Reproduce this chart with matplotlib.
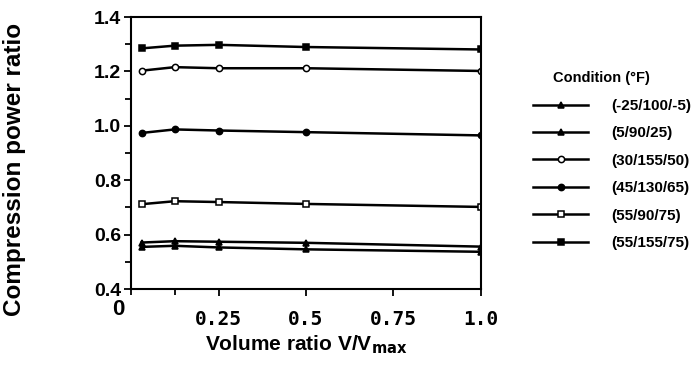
import matplotlib.pyplot as plt
from matplotlib.ticker import FixedLocator

# volume ratio V/Vmax where each condition was evaluated
volume_ratio = [0.03, 0.125, 0.25, 0.5, 1.0]

conditions = ["(-25/100/-5)", "(5/90/25)", "(30/155/50)",
              "(45/130/65)", "(55/90/75)", "(55/155/75)"]

# compression power ratio
cpr_m25_100_m5 = [0.555, 0.559, 0.553, 0.546, 0.537]
cpr_5_90_25 = [0.571, 0.576, 0.574, 0.570, 0.556]
cpr_30_155_50 = [1.203, 1.216, 1.212, 1.212, 1.202]
cpr_45_130_65 = [0.974, 0.987, 0.983, 0.977, 0.965]
cpr_55_90_75 = [0.712, 0.723, 0.720, 0.713, 0.702]
cpr_55_155_75 = [1.285, 1.295, 1.298, 1.290, 1.281]

series = [cpr_m25_100_m5, cpr_5_90_25, cpr_30_155_50,
          cpr_45_130_65, cpr_55_90_75, cpr_55_155_75]
markers = ["^", "^", "o", "o", "s", "s"]
filled = [True, True, False, True, False, True]

y_ticks = [0.4, 0.6, 0.8, 1.0, 1.2, 1.4]
y_minor = [0.5, 0.7, 0.9, 1.1, 1.3]
x_ticks = [0.25, 0.5, 0.75, 1.0]
x_ticklabels = ["0.25", "0.5", "0.75", "1.0"]

plt.rcParams["font.family"] = ["Liberation Sans", "DejaVu Sans"]
plt.rcParams["font.weight"] = "bold"

fig = plt.figure(figsize=(6.97, 3.72), dpi=100)
ax = fig.add_axes([0.188, 0.223, 0.502, 0.731])

handles = []
for vals, m, f, name in zip(series, markers, filled, conditions):
    h, = ax.plot(volume_ratio, vals, color="black", lw=1.8, marker=m,
                 markersize=4.5, markeredgewidth=1.1,
                 markerfacecolor="black" if f else "white",
                 markeredgecolor="black", label=name)
    handles.append(h)

ax.set_xlim(0, 1.0)
ax.set_ylim(0.4, 1.4)
ax.yaxis.set_major_locator(FixedLocator(y_ticks))
ax.yaxis.set_minor_locator(FixedLocator(y_minor))
ax.xaxis.set_major_locator(FixedLocator(x_ticks))
ax.xaxis.set_minor_locator(FixedLocator([0, 0.125]))
ax.set_yticklabels([f"{v:.1f}" for v in y_ticks], fontsize=14,
                   fontweight="bold")
ax.set_xticklabels(x_ticklabels, family="DejaVu Sans Mono", fontsize=14,
                   fontweight="bold")
ax.tick_params(which="both", direction="out", width=1.3, color="black")
ax.tick_params(which="major", length=5)
ax.tick_params(axis="x", which="major", pad=10)
ax.tick_params(axis="y", which="major", pad=2)
ax.tick_params(which="minor", length=4)
for sp in ax.spines.values():
    sp.set_linewidth(1.5)

ax.text(-0.035, -0.035, "0", transform=ax.transAxes, ha="center", va="top",
        fontsize=16, fontweight="bold")

ax.set_ylabel("Compression power ratio", fontsize=17.5, fontweight="bold")
ax.yaxis.set_label_coords(-0.3, 0.44)
ax.set_xlabel(r"Volume ratio V/V$_{\mathbf{max}}$", fontsize=15,
              fontweight="bold", labelpad=3)

leg = fig.legend(handles, conditions, loc="upper left",
                 bbox_to_anchor=(0.745, 0.845), frameon=False,
                 fontsize=11, handlelength=3.6, handletextpad=1.5,
                 labelspacing=0.88, numpoints=1,
                 title="Condition (°F)     ",
                 title_fontproperties={"size": 10.5, "weight": "bold"})

fig.savefig("out.png", dpi=100)
